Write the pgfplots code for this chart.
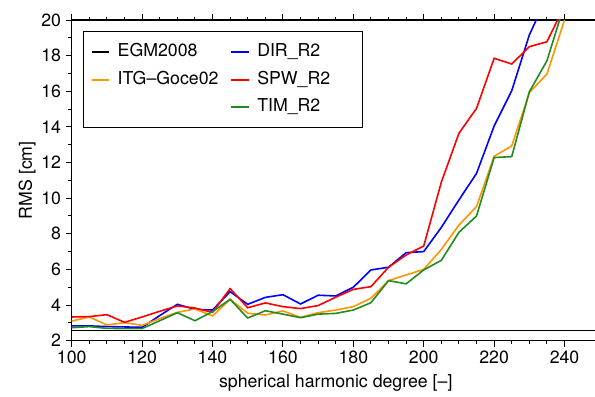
\documentclass[border=0pt]{standalone}
\usepackage{fontspec}
\setmainfont{TeX Gyre Heros}
\usepackage{pgfplots}
\usepackage{pgfplotstable}
\pgfplotsset{compat=1.18}
\definecolor{cblue}{RGB}{0,0,255}
\definecolor{cred}{RGB}{255,0,0}
\definecolor{corange}{RGB}{255,150,0}
\definecolor{cgreen}{RGB}{34,139,34}

\pgfplotstableread{
deg dir spw itg tim egm
100 2.83 3.33 3.10 2.73 2.57
105 2.83 3.35 3.33 2.79 2.57
110 2.79 3.46 2.88 2.69 2.57
115 2.77 3.03 3.01 2.68 2.57
120 2.75 3.33 2.86 2.68 2.57
125 3.41 3.65 3.24 3.12 2.57
130 4.04 3.95 3.59 3.57 2.57
135 3.76 3.83 3.78 3.12 2.57
140 3.72 3.59 3.39 3.63 2.57
145 4.75 4.92 4.32 4.32 2.57
150 4.04 3.85 3.54 3.27 2.57
155 4.43 4.12 3.44 3.68 2.57
160 4.58 3.91 3.67 3.49 2.57
165 4.06 3.80 3.31 3.29 2.57
170 4.55 3.97 3.57 3.49 2.57
175 4.51 4.44 3.72 3.53 2.57
180 5.00 4.88 3.91 3.72 2.57
185 5.97 5.03 4.38 4.13 2.57
190 6.12 6.12 5.37 5.37 2.57
195 6.94 6.81 5.69 5.19 2.57
200 7.00 7.31 6.00 5.97 2.57
205 8.36 10.90 7.12 6.51 2.57
210 9.90 13.64 8.49 8.08 2.57
215 11.39 15.04 9.53 9.00 2.57
220 14.05 17.85 12.35 12.28 2.57
225 16.03 17.53 12.93 12.33 2.57
230 19.16 18.50 15.92 15.97 2.57
235 21.30 18.78 16.97 17.71 2.57
240 23.00 20.80 20.00 20.90 2.57
250 nan nan nan nan 2.57
}\data

\begin{document}
\begin{tikzpicture}[font=\fontsize{13.3}{16}\selectfont]
\begin{axis}[
  scale only axis, width=396pt, height=240.5pt,
  xmin=100, xmax=250, ymin=2, ymax=20,
  xtick={100,120,...,240}, ytick={2,4,...,20},
  minor x tick num=3, minor y tick num=1,
  tick align=outside,
  major tick length=4.5pt, minor tick length=2.5pt,
  tick style={black, line width=0.7pt},
  axis line style={black, line width=0.9pt},
  /pgf/number format/assume math mode=true,
  xlabel={spherical harmonic degree [–]},
  ylabel={RMS [cm]},
  xlabel style={at={(axis description cs:0.5,0)}, anchor=center, yshift=-31.7pt},
  ylabel style={at={(axis description cs:-0.0846,0.5)}, anchor=center},
  legend columns=2,
  legend cell align=left,
  legend style={at={(axis description cs:0,1)}, anchor=north west,
    xshift=8.25pt, yshift=-8.25pt, draw=black, line width=0.9pt,
    inner xsep=5.5pt, inner ysep=9.2pt, column sep=5.5pt, row sep=8.5pt,
    nodes={inner sep=0pt, text height=9.6pt, text depth=2.6pt},
    /tikz/every even column/.append style={column sep=8.8pt}},
  legend image code/.code={\draw[#1, line width=1.5pt] (0pt,0pt) -- (13.3pt,0pt);},
]
\coordinate (sw) at (rel axis cs:0,0);
\addplot[draw=black, line width=1.2pt] table[x=deg, y=egm] {\data};
\addlegendentry{EGM2008}
\addplot[draw=cblue, line width=1.2pt] table[x=deg, y=dir] {\data};
\addlegendentry{\makebox[73.5pt][l]{DIR\_R2}}
\addplot[draw=corange, line width=1.2pt] table[x=deg, y=itg] {\data};
\addlegendentry{ITG–Goce02}
\addplot[draw=cred, line width=1.2pt] table[x=deg, y=spw] {\data};
\addlegendentry{SPW\_R2}
\addlegendimage{empty legend}
\addlegendentry{}
\addplot[draw=cgreen, line width=1.2pt] table[x=deg, y=tim] {\data};
\addlegendentry{TIM\_R2}
\end{axis}
\pgfresetboundingbox
\path (sw) ++(-53.8pt,-41.5pt) rectangle ++(446.25pt,297pt);
\end{tikzpicture}
\end{document}
